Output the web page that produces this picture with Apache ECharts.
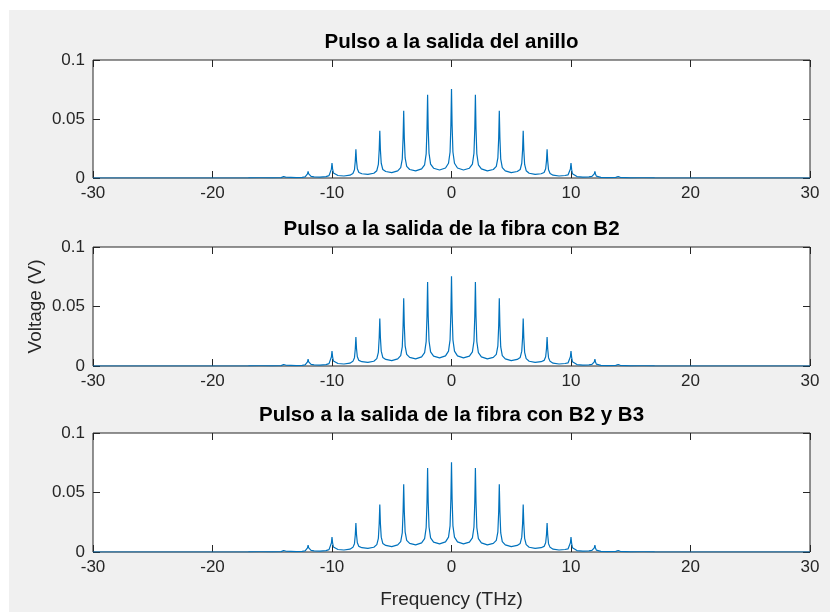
<!DOCTYPE html>
<html>
<head>
<meta charset="utf-8">
<script src="https://cdn.jsdelivr.net/npm/echarts@6/dist/echarts.min.js"></script>
<style>
html,body{margin:0;padding:0;background:#fff;}
#chart{width:830px;height:612px;}
</style>
</head>
<body>
<div id="chart"></div>
<script>
// ---- Data ----
const panelTitles = [
  'Pulso a la salida del anillo',
  'Pulso a la salida de la fibra con B2',
  'Pulso a la salida de la fibra con B2 y B3'
];
const xTicks = [-30, -20, -10, 0, 10, 20, 30];
const yTicks = [0, 0.05, 0.1];

// Frequency samples (THz)
const freqTHz = [
  -30, -18, -17, -16.12, -16, -15.88, -15,
  -14.25, -14.12, -14.05, -14, -13.95, -13.88, -13.75, -13,
  -12.5, -12.25, -12.12, -12.05, -12, -11.95, -11.88, -11.75, -11.5, -11,
  -10.5, -10.25, -10.12, -10.05, -10, -9.95, -9.88, -9.75, -9.5, -9,
  -8.5, -8.25, -8.12, -8.05, -8, -7.95, -7.88, -7.75, -7.5, -7,
  -6.5, -6.25, -6.12, -6.05, -6, -5.95, -5.88, -5.75, -5.5, -5,
  -4.5, -4.25, -4.12, -4.05, -4, -3.95, -3.88, -3.75, -3.5, -3,
  -2.5, -2.25, -2.12, -2.05, -2, -1.95, -1.88, -1.75, -1.5, -1,
  -0.5, -0.25, -0.12, -0.05, 0, 0.05, 0.12, 0.25, 0.5, 1,
  1.5, 1.75, 1.88, 1.95, 2, 2.05, 2.12, 2.25, 2.5, 3,
  3.5, 3.75, 3.88, 3.95, 4, 4.05, 4.12, 4.25, 4.5, 5,
  5.5, 5.75, 5.88, 5.95, 6, 6.05, 6.12, 6.25, 6.5, 7,
  7.5, 7.75, 7.88, 7.95, 8, 8.05, 8.12, 8.25, 8.5, 9,
  9.5, 9.75, 9.88, 9.95, 10, 10.05, 10.12, 10.25, 10.5, 11,
  11.5, 11.75, 11.88, 11.95, 12, 12.05, 12.12, 12.25, 12.5, 13,
  13.75, 13.88, 13.95, 14, 14.05, 14.12, 14.25, 15,
  15.88, 16, 16.12, 17, 18, 30
];

// Voltage (V) of the spectrum after the ring
const voltageRing = [
  0, 0, 0.00005, 0.0002, 0.0007, 0.0002, 0.0001,
  0.0003, 0.0006, 0.0013, 0.0022, 0.0013, 0.0008, 0.0005, 0.0003,
  0.0005, 0.0009, 0.0016, 0.0034, 0.0057, 0.0035, 0.0019, 0.0013, 0.0010, 0.0008,
  0.0012, 0.0020, 0.0036, 0.0075, 0.0126, 0.0077, 0.0042, 0.0026, 0.0021, 0.0017,
  0.0024, 0.0039, 0.0070, 0.0145, 0.0243, 0.0147, 0.0078, 0.0047, 0.0036, 0.0030,
  0.0040, 0.0062, 0.0115, 0.0240, 0.0400, 0.0240, 0.0125, 0.0072, 0.0055, 0.0045,
  0.0060, 0.0088, 0.0160, 0.0340, 0.0570, 0.0340, 0.0170, 0.0098, 0.0072, 0.0060,
  0.0077, 0.0112, 0.0205, 0.0420, 0.0705, 0.0420, 0.0210, 0.0118, 0.0083, 0.0068,
  0.0085, 0.0125, 0.0220, 0.0450, 0.0755, 0.0450, 0.0220, 0.0125, 0.0085, 0.0068,
  0.0083, 0.0118, 0.0210, 0.0420, 0.0705, 0.0420, 0.0205, 0.0112, 0.0077, 0.0060,
  0.0072, 0.0098, 0.0170, 0.0340, 0.0570, 0.0340, 0.0160, 0.0088, 0.0060, 0.0045,
  0.0055, 0.0072, 0.0125, 0.0240, 0.0400, 0.0240, 0.0115, 0.0062, 0.0040, 0.0030,
  0.0036, 0.0047, 0.0078, 0.0147, 0.0243, 0.0145, 0.0070, 0.0039, 0.0024, 0.0017,
  0.0021, 0.0026, 0.0042, 0.0077, 0.0126, 0.0075, 0.0036, 0.0020, 0.0012, 0.0008,
  0.0010, 0.0013, 0.0019, 0.0035, 0.0057, 0.0034, 0.0016, 0.0009, 0.0005, 0.0003,
  0.0005, 0.0008, 0.0013, 0.0022, 0.0013, 0.0006, 0.0003, 0.0001,
  0.0002, 0.0007, 0.0002, 0.00005, 0, 0
];
// The dispersion (B2, B3) only changes the phase: the magnitude spectra look the same
const voltageFiberB2 = voltageRing.slice();
const voltageFiberB2B3 = voltageRing.slice();
const panelVoltages = [voltageRing, voltageFiberB2, voltageFiberB2B3];

// ---- Layout / styles ----
const FONT = '"Liberation Sans", Arial, Helvetica, sans-serif';
const AX = '#262626';
const LINE = '#0072BD';
const plotLeft = 93, plotWidth = 717;
const plotTops = [60, 247, 433];
const plotHeights = [118, 119, 119];
const cx = plotLeft + plotWidth / 2;

const grids = [], xAxes = [], yAxes = [], series = [], graphics = [];

graphics.push({
  type: 'rect', z: -100, silent: true,
  shape: { x: 9, y: 10, width: 821, height: 602 },
  style: { fill: '#f0f0f0' }
});

for (let i = 0; i < 3; i++) {
  grids.push({
    left: plotLeft, width: plotWidth, top: plotTops[i], height: plotHeights[i],
    show: true, backgroundColor: '#ffffff', borderColor: AX, borderWidth: 1,
    containLabel: false
  });
  const tickCommon = { show: true, inside: true, length: 7, lineStyle: { color: AX, width: 1 } };
  const noLine = { show: false, onZero: false };
  xAxes.push({
    gridIndex: i, type: 'value', position: 'bottom', min: -30, max: 30, interval: 10,
    axisLine: noLine, splitLine: { show: false },
    axisTick: tickCommon,
    axisLabel: { show: true, color: AX, fontSize: 17, fontFamily: FONT, margin: 7,
      formatter: v => xTicks.includes(v) ? String(v) : '' }
  });
  xAxes.push({
    gridIndex: i, type: 'value', position: 'top', min: -30, max: 30, interval: 10,
    axisLine: noLine, splitLine: { show: false },
    axisTick: tickCommon, axisLabel: { show: false }
  });
  yAxes.push({
    gridIndex: i, type: 'value', position: 'left', min: 0, max: 0.1, interval: 0.05,
    axisLine: noLine, splitLine: { show: false },
    axisTick: tickCommon,
    axisLabel: { show: true, color: AX, fontSize: 17, fontFamily: FONT, margin: 8,
      formatter: v => { const t = yTicks.find(k => Math.abs(k - v) < 1e-9); return t === undefined ? '' : String(t); } }
  });
  yAxes.push({
    gridIndex: i, type: 'value', position: 'right', min: 0, max: 0.1, interval: 0.05,
    axisLine: noLine, splitLine: { show: false },
    axisTick: tickCommon, axisLabel: { show: false }
  });
  const vals = panelVoltages[i];
  series.push({
    type: 'line', xAxisIndex: 2 * i, yAxisIndex: 2 * i,
    data: freqTHz.map((f, k) => [f, vals[k]]),
    showSymbol: false, symbol: 'none', smooth: false, clip: true,
    lineStyle: { color: LINE, width: 1.2 },
    z: 3
  });
  graphics.push({
    type: 'text', z: 100, silent: true,
    style: { text: panelTitles[i], x: cx, y: plotTops[i] - 18, textAlign: 'center', textVerticalAlign: 'middle',
      font: 'bold 20.5px ' + FONT, fill: '#000000' }
  });
}

graphics.push({
  type: 'text', z: 100, silent: true, x: 36, y: 306.5, rotation: Math.PI / 2,
  style: { text: 'Voltage (V)', x: 0, y: 0, textAlign: 'center', textVerticalAlign: 'middle',
    font: '19px ' + FONT, fill: AX }
});
graphics.push({
  type: 'text', z: 100, silent: true,
  style: { text: 'Frequency (THz)', x: cx, y: 600, textAlign: 'center', textVerticalAlign: 'middle',
    font: '19px ' + FONT, fill: AX }
});

const chart = echarts.init(document.getElementById('chart'), null, { renderer: 'canvas' });
chart.setOption({
  animation: false,
  backgroundColor: '#ffffff',
  grid: grids,
  xAxis: xAxes,
  yAxis: yAxes,
  series: series,
  graphic: graphics
});
</script>
</body>
</html>
